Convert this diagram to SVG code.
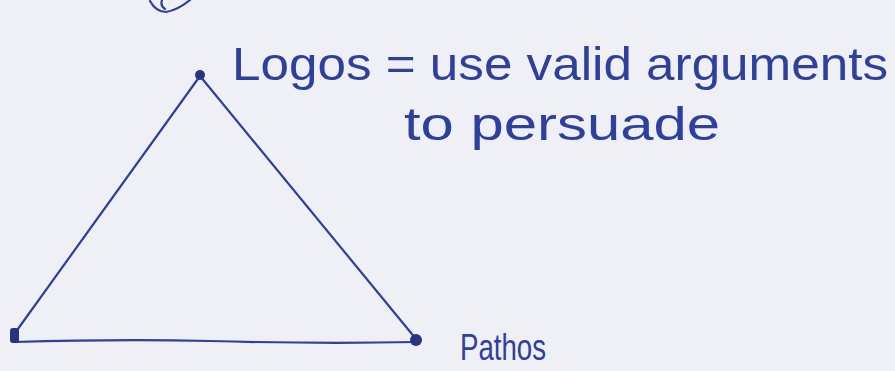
<svg xmlns="http://www.w3.org/2000/svg" width="895" height="371" viewBox="0 0 895 371">
<style>
.ink{fill:none;stroke:#2e3f9c;stroke-width:2.2;stroke-linecap:round;stroke-linejoin:round}
.dot{fill:#27357f}
.t{font-family:"Liberation Sans",Arial,sans-serif;fill:#2e3f9c;font-weight:normal}
</style>
<rect width="895" height="371" fill="#eef0f6"/>
<path class="ink" d="M150 1 Q156 12 166 12 Q178 10 190 0" stroke-width="3"/>
<path class="ink" d="M162 0 Q160 6 165 9"/>
<g id="connectors">
<path class="ink" d="M200 76 L15 333"/>
<path class="ink" d="M200 76 L416 339"/>
<path class="ink" d="M14 342 Q120 339 210 341 Q320 344 417 342"/>
</g>
<g id="logos">
<circle class="dot" cx="200" cy="75" r="5"/>
<text class="t" x="232" y="80" font-size="46" textLength="656" lengthAdjust="spacingAndGlyphs">Logos = use valid arguments</text>
<text class="t" x="404" y="140" font-size="46" textLength="316" lengthAdjust="spacingAndGlyphs">to persuade</text>
</g>
<g id="left">
<rect class="dot" x="10" y="328" width="9" height="15" rx="3"/>
</g>
<g id="pathos">
<ellipse class="dot" cx="416" cy="340" rx="6" ry="6"/>
<text class="t" x="460" y="360" font-size="36" textLength="86" lengthAdjust="spacingAndGlyphs">Pathos</text>
</g>
</svg>
